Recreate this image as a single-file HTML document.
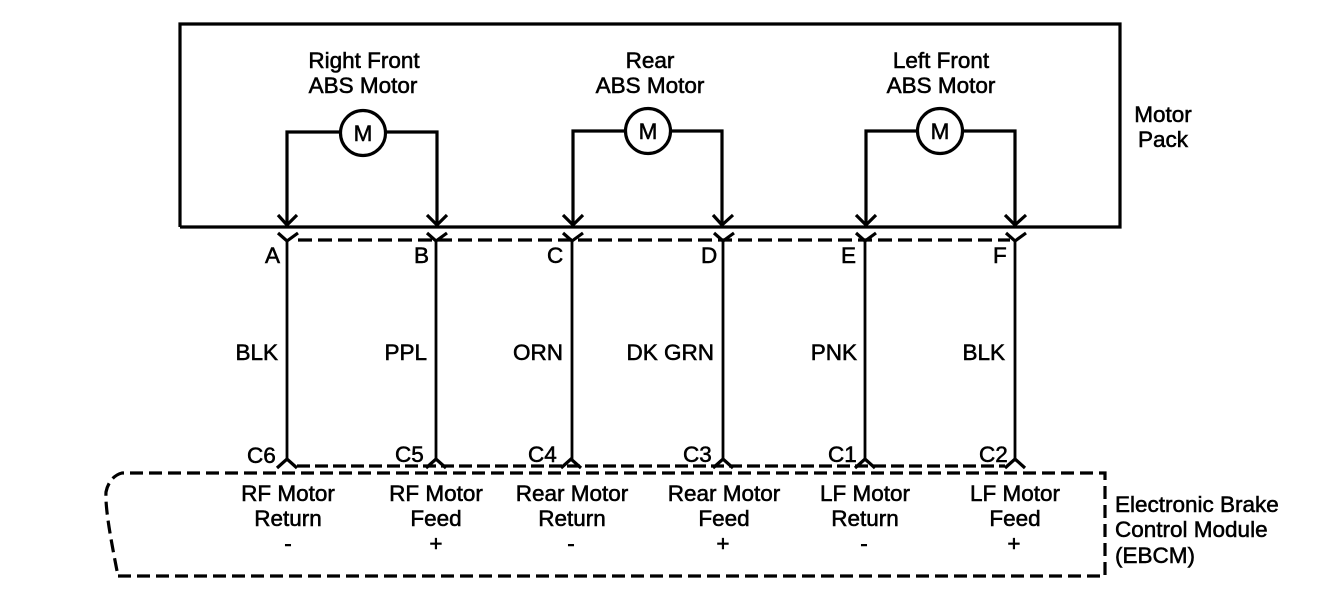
<!DOCTYPE html>
<html><head><meta charset="utf-8"><style>
html,body{margin:0;padding:0;background:#fff}
svg{display:block}
text{font-family:"Liberation Sans",sans-serif;font-size:22.5px;fill:#000;stroke:#000;stroke-width:.55px}
.m{text-anchor:middle}.e{text-anchor:end}
</style></head><body>
<svg width="1328" height="598" viewBox="0 0 1328 598" xmlns="http://www.w3.org/2000/svg">
<g fill="none" stroke="#000" stroke-width="3.2">
<path d="M180 227V24H1120V227H180" />
<path d="M287 226V132H341M385 132H437V226"/>
<path d="M573 226V131H626M670 131H722V226"/>
<path d="M866 226V131H918M962 131H1015V226"/>
<circle cx="363" cy="133" r="22.5"/><circle cx="648" cy="131" r="22.5"/><circle cx="940" cy="131" r="22.5"/>
<path d="M278 215L287 225L297 215M427 215L437 225L447 215M563 215L573 225L583 215M713 215L722 225L733 215M856 215L866 225L876 215M1005 215L1015 225L1026 215"/>
<path d="M278 233L287 241L298 233M427 233L436 241L447 233M563 233L572 241L583 233M714 233L723 241L734 233M856 233L865 241L876 233M1006 233L1015 241L1026 233"/>
<path stroke-width="2.8" d="M287 241V460M436 241V460M572 241V460M723 241V460M865 241V460M1015 241V460"/>
<path d="M277 468L287 459L297 468M426 468L436 459L446 468M561 468L571 459L581 468M713 468L723 459L733 468M855 468L865 459L875 468M1005 468L1015 459L1025 468"/>
<path stroke-dasharray="14 6" d="M298 240H1010"/>
<path stroke-dasharray="13 5" d="M297 466H1005"/>
<path stroke-dasharray="13 6" d="M118 576H1105V473H122C114 475 108 482 106 492C105 510 112 545 118 576"/>
</g>
<g>
<text class="m" x="364" y="68">Right Front</text><text class="m" x="363" y="93">ABS Motor</text>
<text class="m" x="650" y="68">Rear</text><text class="m" x="650" y="93">ABS Motor</text>
<text class="m" x="941" y="68">Left Front</text><text class="m" x="941" y="93">ABS Motor</text>
<text class="m" x="363" y="141">M</text><text class="m" x="648" y="139">M</text><text class="m" x="940" y="139">M</text>
<text class="m" x="1163" y="122">Motor</text><text class="m" x="1163" y="147">Pack</text>
<text x="265" y="263">A</text><text x="414" y="263">B</text><text x="547" y="263">C</text><text x="701" y="263">D</text><text x="841" y="263">E</text><text x="993" y="263">F</text>
<text class="e" x="278" y="360">BLK</text><text class="e" x="427" y="360">PPL</text><text class="e" x="563" y="360">ORN</text><text class="e" x="714" y="360">DK GRN</text><text class="e" x="857" y="360">PNK</text><text class="e" x="1005" y="360">BLK</text>
<text x="247" y="463">C6</text><text x="395" y="462">C5</text><text x="528" y="462">C4</text><text x="683" y="462">C3</text><text x="828" y="462">C1</text><text x="979" y="462">C2</text>
<text class="m" x="288" y="501">RF Motor</text><text class="m" x="288" y="526">Return</text><text class="m" x="288" y="551">-</text>
<text class="m" x="436" y="501">RF Motor</text><text class="m" x="436" y="526">Feed</text><text class="m" x="436" y="551">+</text>
<text class="m" x="572" y="501">Rear Motor</text><text class="m" x="572" y="526">Return</text><text class="m" x="571" y="551">-</text>
<text class="m" x="724" y="501">Rear Motor</text><text class="m" x="724" y="526">Feed</text><text class="m" x="723" y="551">+</text>
<text class="m" x="865" y="501">LF Motor</text><text class="m" x="865" y="526">Return</text><text class="m" x="864" y="551">-</text>
<text class="m" x="1015" y="501">LF Motor</text><text class="m" x="1015" y="526">Feed</text><text class="m" x="1014" y="551">+</text>
<text x="1115" y="512">Electronic Brake</text><text x="1115" y="537">Control Module</text><text x="1115" y="563">(EBCM)</text>
</g>
</svg>
</body></html>
